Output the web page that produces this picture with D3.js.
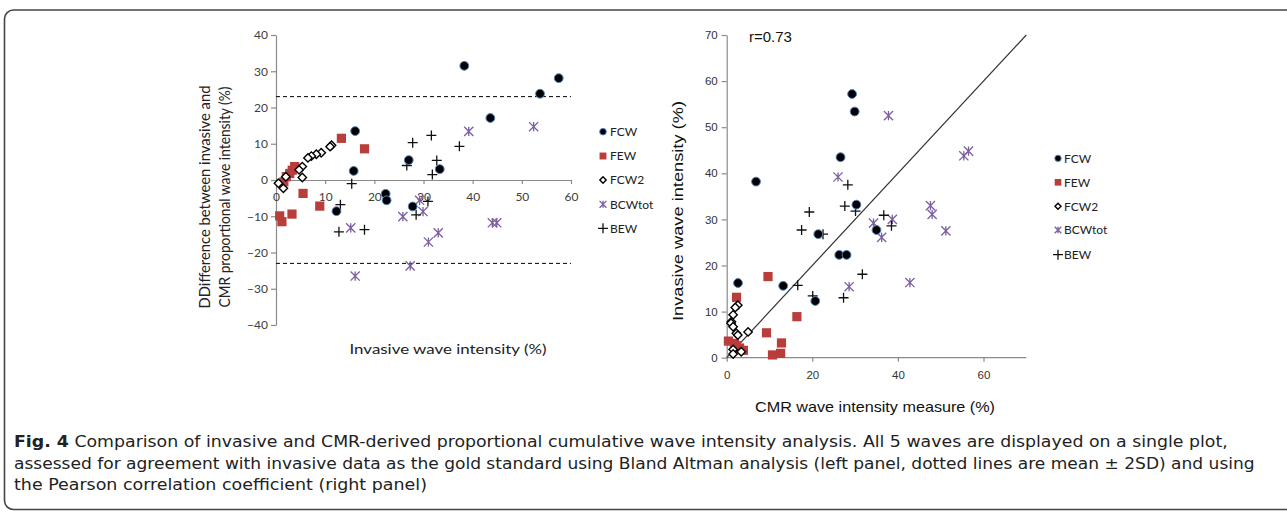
<!DOCTYPE html>
<html><head><meta charset="utf-8">
<script src="https://cdn.jsdelivr.net/npm/d3@7"></script>
<style>
html,body{margin:0;padding:0;background:#fff;}
svg{display:block;}
</style></head>
<body>
<svg id="c" width="1287" height="513"></svg>
<script>
// ---------- DATA ----------
const seriesNames = ["FCW", "FEW", "FCW2", "BCWtot", "BEW"];

// Left panel (Bland-Altman): x = invasive wave intensity, y = difference
const baFCW = [[38.3,31.5],[57.5,28.1],[53.7,23.8],[43.6,17.1],[16.1,13.5],[15.8,2.5],[27.0,5.5],[33.3,3.0],[22.3,-3.8],[22.5,-5.6],[27.8,-7.3],[12.3,-8.6]];
const baFEW = [[13.3,11.5],[18.0,8.6],[3.8,3.7],[3.3,2.7],[2.8,1.8],[2.1,0.9],[1.6,-0.5],[5.5,-3.7],[8.9,-7.2],[3.25,-9.4],[0.75,-9.9],[1.2,-11.5]];
const baFCW2 = [[11.3,9.6],[11.0,9.2],[9.2,7.5],[8.2,7.1],[7.2,6.6],[6.5,6.1],[5.35,3.7],[4.7,2.8],[5.35,0.7],[2.0,0.9],[0.5,-0.9],[1.5,-2.3]];
const baBCWtot = [[39.2,13.4],[52.4,14.7],[29.2,-5.6],[25.8,-10.1],[29.9,-8.7],[15.2,-13.2],[33.0,-14.6],[31.0,-17.1],[44.0,-11.8],[44.9,-11.8],[27.3,-23.7],[16.1,-26.5]];
const baBEW = [[31.6,12.3],[27.8,10.3],[37.3,9.3],[32.7,5.4],[26.6,4.0],[31.8,1.5],[15.4,-1.0],[13.1,-6.8],[30.9,-5.9],[28.5,-9.6],[12.8,-14.3],[18.0,-13.7]];
const limitsOfAgreement = [23, -23];

// Right panel (correlation): x = CMR wave intensity, y = invasive wave intensity
const cFCW = [[29.3,57.2],[29.9,53.4],[26.6,43.5],[6.85,38.2],[30.3,33.2],[35.0,27.7],[21.4,26.8],[26.3,22.3],[28.0,22.3],[2.64,16.2],[13.2,15.6],[20.7,12.3]];
const cFEW = [[9.65,17.6],[2.3,13.1],[16.4,8.9],[9.3,5.4],[12.8,3.2],[10.7,0.6],[12.6,0.95],[0.4,3.6],[1.8,3.1],[2.3,2.6],[3.0,2.1],[3.9,1.6]];
const cFCW2 = [[2.6,11.4],[2.0,10.9],[1.5,9.3],[1.1,7.8],[1.0,7.5],[1.5,6.7],[2.25,5.3],[2.6,4.9],[5.0,5.6],[1.5,1.8],[3.4,1.3],[1.5,0.8]];
const cBCWtot = [[37.8,52.5],[55.4,43.8],[56.5,44.8],[26.0,39.2],[47.6,33.0],[48.0,31.1],[38.7,30.0],[34.3,29.2],[36.2,26.1],[51.2,27.5],[42.8,16.3],[28.6,15.4]];
const cBEW = [[28.3,37.5],[27.6,32.9],[30.1,31.8],[19.3,31.6],[36.7,30.9],[38.5,28.6],[17.5,27.7],[22.5,26.8],[31.7,18.1],[16.6,15.7],[20.1,13.4],[27.3,13.0]];
const identityLine = [[0,0],[70,70]];

const leftXTicks = [0,10,20,30,40,50,60];
const leftYTicks = [-40,-30,-20,-10,0,10,20,30,40];
const rightXTicks = [0,20,40,60];
const rightYTicks = [0,10,20,30,40,50,60,70];

const rValue = "r=0.73";
const captionBold = "Fig. 4";
const captionLines = [
  " Comparison of invasive and CMR-derived proportional cumulative wave intensity analysis. All 5 waves are displayed on a single plot,",
  "assessed for agreement with invasive data as the gold standard using Bland Altman analysis (left panel, dotted lines are mean \u00b1 2SD) and using",
  "the Pearson correlation coefficient (right panel)"
];

// ---------- DRAW ----------
const svg = d3.select("#c");
const calibri = "Lato, 'Open Sans', sans-serif";
const arial = "'Liberation Sans', Arial, sans-serif";

// frame
svg.append("rect").attr("x",4.5).attr("y",10).attr("width",1295).attr("height",499.5)
  .attr("rx",9).attr("fill","none").attr("stroke","#444").attr("stroke-width",1.6);

// marker painters
const C = {FCW:"#000", FEW:"#b83d3b", FCW2:"#000", BCWtot:"#7b5fa0", BEW:"#111"};
function drawMarker(g, name, x, y, s) {
  s = s || 1;
  if (name === "FCW") {
    g.append("circle").attr("cx",x).attr("cy",y).attr("r",4.4*s).attr("fill","#000").attr("stroke","#4f81bd").attr("stroke-width",1);
  } else if (name === "FEW") {
    const h = 4.6*s;
    g.append("rect").attr("x",x-h).attr("y",y-h).attr("width",2*h).attr("height",2*h).attr("fill",C.FEW);
  } else if (name === "FCW2") {
    const h = 4.2*s;
    g.append("path").attr("d",`M${x},${y-h}L${x+h},${y}L${x},${y+h}L${x-h},${y}Z`).attr("fill","#fff").attr("stroke","#000").attr("stroke-width",1.4);
  } else if (name === "BCWtot") {
    const h = 4.6*s;
    g.append("path").attr("d",`M${x-h},${y-h}L${x+h},${y+h}M${x-h},${y+h}L${x+h},${y-h}M${x},${y-h}L${x},${y+h}`)
      .attr("stroke",C.BCWtot).attr("stroke-width",1.3).attr("fill","none");
  } else if (name === "BEW") {
    const h = 5*s;
    g.append("path").attr("d",`M${x-h},${y}L${x+h},${y}M${x},${y-h}L${x},${y+h}`)
      .attr("stroke",C.BEW).attr("stroke-width",1.3).attr("fill","none");
  }
}

function styleAxis(g, color, font, size) {
  g.select(".domain").attr("stroke","#8a8a8a").attr("stroke-width",1.2);
  g.selectAll(".tick line").attr("stroke","#8a8a8a").attr("stroke-width",1.2);
  g.selectAll(".tick text").attr("fill",color).style("font-family",font).style("font-size",size+"px");
}

// ===== LEFT PANEL =====
const xL = d3.scaleLinear().domain([0,60]).range([276,571]);
const yL = d3.scaleLinear().domain([-40,40]).range([325,35]);
const gL = svg.append("g");

const axYL = gL.append("g").attr("transform",`translate(${xL(0)},0)`)
  .call(d3.axisLeft(yL).tickValues(leftYTicks).tickSize(5).tickPadding(3).tickSizeOuter(0));
styleAxis(axYL, "#404040", calibri, 12);
const axXL = gL.append("g").attr("transform",`translate(0,${yL(0)})`)
  .call(d3.axisBottom(xL).tickValues(leftXTicks).tickSize(4).tickPadding(8).tickSizeOuter(0));
styleAxis(axXL, "#404040", calibri, 12);

gL.selectAll("line.loa").data(limitsOfAgreement).join("line").attr("class","loa")
  .attr("x1",xL(0)).attr("x2",xL(60)).attr("y1",d=>yL(d)).attr("y2",d=>yL(d))
  .attr("stroke","#000").attr("stroke-width",1).attr("stroke-dasharray","4,3");

const leftSets = {FCW:baFCW, FEW:baFEW, FCW2:baFCW2, BCWtot:baBCWtot, BEW:baBEW};
["FEW","FCW2","BCWtot","BEW","FCW"].forEach(n => {
  leftSets[n].forEach(d => drawMarker(gL, n, xL(d[0]), yL(d[1])));
});

gL.append("text").attr("x",448).attr("y",354).attr("text-anchor","middle")
  .style("font-family",calibri).style("font-size","14px").attr("fill","#222")
  .attr("textLength",197).attr("lengthAdjust","spacingAndGlyphs")
  .text("Invasive wave intensity (%)");
const ytl = gL.append("g").attr("transform","translate(0,197) rotate(-90)");
ytl.append("text").attr("x",0).attr("y",210).attr("text-anchor","middle")
  .style("font-family",calibri).style("font-size","14.5px").attr("fill","#222")
  .attr("textLength",223).attr("lengthAdjust","spacingAndGlyphs")
  .text("DDifference between invasive and");
ytl.append("text").attr("x",0).attr("y",230).attr("text-anchor","middle")
  .style("font-family",calibri).style("font-size","14.5px").attr("fill","#222")
  .attr("textLength",221).attr("lengthAdjust","spacingAndGlyphs")
  .text("CMR proportional wave intensity (%)");

// left legend
const legL = [131.7,156,180,204.3,228.3];
seriesNames.forEach((n,i) => {
  drawMarker(gL, n, 603, legL[i], n==="BEW"?1:0.75);
  gL.append("text").attr("x",610).attr("y",legL[i]+4.3)
    .style("font-family",calibri).style("font-size","12px").attr("fill","#222").text(n);
});

// ===== RIGHT PANEL =====
const xR = d3.scaleLinear().domain([0,70]).range([726.7,1026.3]);
const yR = d3.scaleLinear().domain([0,70]).range([357.7,35]);
const gR = svg.append("g");

const axYR = gR.append("g").attr("transform",`translate(${xR(0)},0)`)
  .call(d3.axisLeft(yR).tickValues(rightYTicks).tickSize(5).tickPadding(4).tickSizeOuter(0));
styleAxis(axYR, "#333", arial, 11.5);
const axXR = gR.append("g").attr("transform",`translate(0,${yR(0)})`)
  .call(d3.axisBottom(xR).tickValues(rightXTicks).tickSize(4).tickPadding(9).tickSizeOuter(0));
styleAxis(axXR, "#333", arial, 11.5);
axXR.select(".domain").attr("d",`M${xR(0)},0H${xR(70)}`);

gR.append("path").datum(identityLine)
  .attr("d", d3.line().x(d=>xR(d[0])).y(d=>yR(d[1])))
  .attr("stroke","#333").attr("stroke-width",1.2).attr("fill","none");

const rightSets = {FCW:cFCW, FEW:cFEW, FCW2:cFCW2, BCWtot:cBCWtot, BEW:cBEW};
["FEW","FCW2","BCWtot","BEW","FCW"].forEach(n => {
  rightSets[n].forEach(d => drawMarker(gR, n, xR(d[0]), yR(d[1])));
});

gR.append("text").attr("x",749).attr("y",42)
  .style("font-family",arial).style("font-size","15px").attr("fill","#111").text(rValue);
gR.append("text").attr("x",875).attr("y",412).attr("text-anchor","middle")
  .style("font-family",arial).style("font-size","15px").attr("fill","#111")
  .attr("textLength",240).attr("lengthAdjust","spacingAndGlyphs")
  .text("CMR wave intensity measure (%)");
gR.append("text").attr("transform","translate(683,211) rotate(-90)").attr("text-anchor","middle")
  .style("font-family",arial).style("font-size","15px").attr("fill","#111")
  .attr("textLength",220).attr("lengthAdjust","spacingAndGlyphs")
  .text("Invasive wave intensity (%)");

const legR = [158.3,182.3,206.3,230,254.7];
seriesNames.forEach((n,i) => {
  drawMarker(gR, n, 1058, legR[i], n==="BEW"?1:0.72);
  gR.append("text").attr("x",1064).attr("y",legR[i]+4.3)
    .style("font-family",calibri).style("font-size","12px").attr("fill","#222").text(n);
});

// ===== CAPTION =====
const capFont = "'Liberation Sans Narrow','DejaVu Sans Condensed',Roboto,sans-serif";
const capBase = [446.5, 468.5, 490];
const capWidth = [1214, 1241, 413];
captionLines.forEach((line,i) => {
  const g = svg.append("g");
  const t = g.append("text").attr("x",0).attr("y",0)
    .style("font-family",capFont).style("font-size","16.5px").attr("fill","#222");
  if (i === 0) t.append("tspan").style("font-weight","bold").text(captionBold);
  t.append("tspan").text(line);
  const w = t.node().getComputedTextLength();
  g.attr("transform",`translate(14,${capBase[i]}) scale(${capWidth[i]/w},1)`);
});
</script>
</body></html>
